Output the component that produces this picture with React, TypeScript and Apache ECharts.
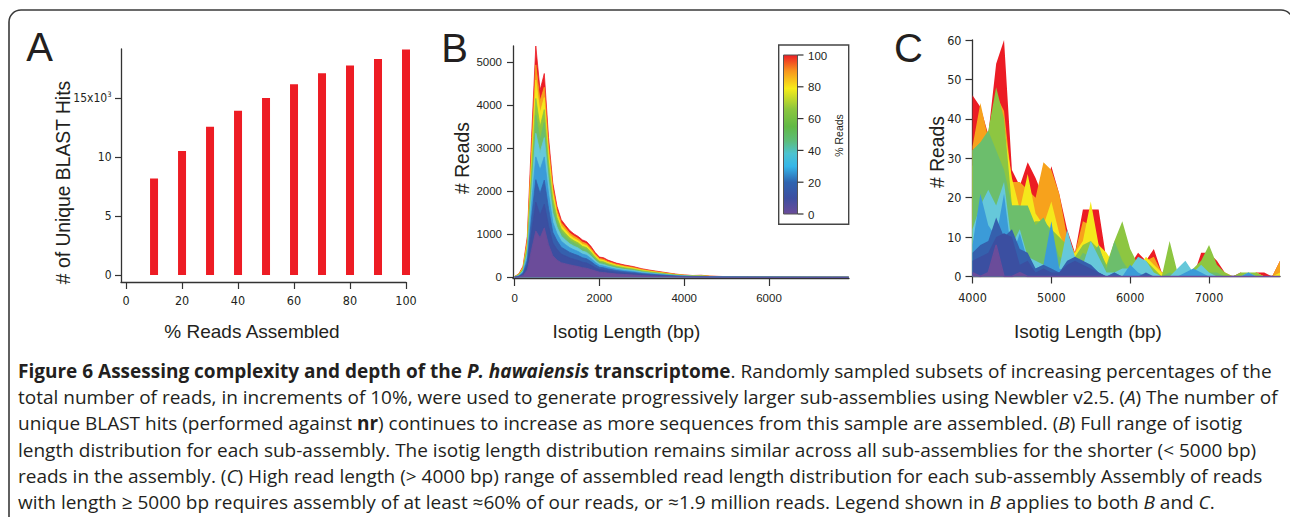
import React, { useEffect, useRef } from 'react';
import * as echarts from 'echarts';

// ---------- Panel A data ----------
const pctAssembled = [0, 10, 20, 30, 40, 50, 60, 70, 80, 90, 100];
const uniqueBlastHits = [0, 8190, 10530, 12600, 13960, 15030, 16200, 17150, 17800, 18360, 19150];
const aYTicks = [0, 5000, 10000, 15000];
const aXTicks = [0, 20, 40, 60, 80, 100];

// ---------- Panel B data (isotig length, bp) ----------
const bLength = [0, 100, 200, 300, 400, 500, 600, 700, 800, 900, 1000, 1100, 1200, 1300, 1400, 1500, 1600, 1700, 1800, 1900, 2000, 2100, 2200, 2400, 2600, 2800, 3000, 3200, 3400, 3600, 3800, 4000, 4200, 4400, 4600, 4800, 5000, 5500, 6000, 6500, 7000, 7500, 7880];
const bReads100 = [20, 80, 260, 950, 3250, 5380, 4350, 4740, 3250, 2200, 1650, 1340, 1210, 1090, 1010, 950, 870, 830, 720, 580, 470, 455, 400, 330, 285, 250, 200, 165, 135, 105, 75, 55, 42, 48, 28, 22, 16, 12, 10, 8, 6, 5, 4];
const bReads90 = [18, 72, 235, 860, 2950, 4940, 4100, 4420, 3050, 2080, 1560, 1270, 1150, 1030, 960, 900, 820, 780, 670, 540, 440, 420, 370, 305, 262, 230, 183, 150, 122, 95, 68, 50, 38, 40, 25, 19, 14, 11, 9, 7, 5, 4, 3];
const bReads80 = [16, 65, 215, 790, 2720, 4590, 3820, 4180, 2880, 1970, 1480, 1200, 1090, 975, 905, 850, 770, 735, 630, 505, 410, 390, 345, 283, 242, 212, 168, 138, 112, 86, 62, 45, 34, 35, 22, 17, 12, 9, 8, 6, 5, 3, 3];
const bReads70 = [14, 58, 195, 720, 2480, 4160, 3500, 3900, 2680, 1830, 1390, 1130, 1020, 915, 850, 800, 720, 690, 590, 470, 380, 360, 318, 260, 222, 194, 153, 125, 101, 78, 56, 40, 30, 31, 19, 15, 11, 8, 7, 5, 4, 3, 2];
const bReads60 = [12, 50, 175, 650, 2250, 3770, 3200, 3600, 2470, 1680, 1290, 1060, 950, 855, 795, 745, 670, 640, 548, 435, 350, 330, 292, 238, 202, 176, 138, 113, 91, 70, 50, 36, 27, 27, 17, 13, 10, 7, 6, 4, 3, 2, 2];
const bReads50 = [10, 42, 150, 570, 2000, 3350, 2900, 3250, 2250, 1500, 1170, 960, 865, 780, 725, 680, 610, 580, 497, 395, 318, 298, 264, 214, 181, 158, 123, 100, 81, 62, 44, 32, 24, 23, 15, 11, 9, 6, 5, 4, 3, 2, 2];
const bReads40 = [8, 34, 125, 480, 1700, 2800, 2500, 2800, 1950, 1280, 1020, 840, 760, 690, 640, 600, 540, 512, 438, 348, 280, 262, 232, 187, 158, 137, 106, 86, 70, 53, 38, 27, 20, 19, 12, 9, 7, 5, 4, 3, 2, 2, 1];
const bReads30 = [6, 26, 100, 390, 1380, 2270, 1950, 2260, 1600, 1050, 850, 700, 640, 580, 540, 505, 455, 430, 368, 292, 235, 220, 195, 157, 132, 114, 88, 71, 58, 44, 31, 22, 16, 15, 10, 7, 6, 4, 3, 2, 2, 1, 1];
const bReads20 = [4, 18, 72, 290, 1050, 1750, 1450, 1700, 1200, 800, 650, 540, 495, 450, 420, 392, 352, 332, 284, 225, 180, 168, 149, 120, 100, 86, 66, 53, 43, 33, 23, 16, 12, 11, 7, 5, 4, 3, 2, 2, 1, 1, 1];
const bReads10 = [2, 10, 40, 170, 640, 1080, 920, 1150, 760, 500, 400, 340, 315, 290, 270, 250, 225, 210, 180, 150, 120, 110, 98, 78, 64, 54, 42, 33, 27, 20, 14, 10, 7, 6, 4, 3, 2, 2, 1, 1, 1, 1, 1];
const bYTicks = [0, 1000, 2000, 3000, 4000, 5000];
const bXTicks = [0, 2000, 4000, 6000];

// ---------- Panel C data (isotig length > 4000 bp) ----------
const cLength = [4000, 4100, 4200, 4300, 4400, 4500, 4600, 4700, 4800, 4900, 5000, 5100, 5200, 5300, 5400, 5500, 5600, 5700, 5800, 5900, 6000, 6100, 6200, 6300, 6400, 6500, 6600, 6700, 6800, 6900, 7000, 7100, 7200, 7300, 7400, 7500, 7600, 7700, 7800, 7900];
const cReads100 = [46, 43, 36, 54, 60, 27, 23, 29, 25, 20, 28, 21, 12, 6, 17, 17, 17, 4, 3, 2, 3, 6, 4, 7, 1, 1, 0, 1, 0, 6, 6, 4, 1, 0, 1, 0, 1, 1, 0, 4];
const cReads90 = [33, 44, 35, 46, 42, 24, 24, 22, 20, 29, 27, 21, 10, 6, 14, 13, 8, 4, 3, 2, 2, 3, 4, 5, 1, 1, 0, 1, 0, 3, 4, 2, 1, 0, 0, 0, 1, 0, 0, 4];
const cReads80 = [28, 33, 37, 35, 38, 25, 17, 26, 16, 13, 19, 11, 6, 6, 9, 19, 8, 6, 3, 2, 2, 2, 5, 3, 1, 1, 0, 1, 0, 2, 3, 2, 1, 0, 0, 0, 1, 0, 0, 1];
const cReads70 = [32, 34, 37, 48, 40, 18, 18, 13, 14, 14, 12, 10, 8, 5, 8, 9, 7, 3, 9, 14, 7, 3, 4, 2, 0, 9, 1, 0, 2, 4, 8, 3, 1, 0, 1, 1, 1, 0, 0, 0];
const cReads60 = [32, 34, 37, 32, 27, 18, 18, 18, 13, 15, 11, 5, 4, 3, 6, 5, 8, 2, 9, 4, 1, 1, 2, 1, 0, 1, 0, 1, 0, 2, 1, 1, 0, 0, 0, 0, 0, 0, 0, 0];
const cReads50 = [12, 18, 22, 18, 24, 8, 12, 5, 4, 3, 3, 2, 12, 5, 3, 9, 5, 1, 1, 2, 2, 5, 4, 1, 0, 0, 2, 4, 1, 3, 1, 0, 0, 0, 0, 1, 0, 0, 0, 0];
const cReads40 = [8, 21, 13, 10, 21, 5, 11, 4, 2, 3, 14, 2, 1, 3, 2, 3, 1, 0, 1, 0, 3, 1, 0, 0, 0, 0, 0, 1, 2, 1, 0, 0, 0, 0, 0, 1, 0, 0, 0, 0];
const cReads30 = [6, 8, 9, 15, 10, 12, 7, 6, 2, 3, 2, 1, 4, 5, 4, 3, 1, 0, 1, 0, 0, 0, 1, 0, 0, 0, 0, 0, 0, 0, 0, 0, 0, 0, 0, 0, 0, 0, 0, 0];
const cReads20 = [4, 5, 6, 10, 11, 10, 3, 4, 1, 2, 1, 1, 3, 4, 3, 2, 1, 0, 0, 0, 0, 0, 0, 0, 0, 0, 0, 0, 0, 0, 0, 0, 0, 0, 0, 0, 0, 0, 0, 0];
const cReads10 = [1, 0, 1, 8, 0, 0, 1, 0, 0, 0, 0, 0, 0, 0, 0, 0, 0, 0, 0, 0, 0, 0, 0, 0, 0, 0, 0, 0, 0, 0, 0, 0, 0, 0, 0, 0, 0, 0, 0, 0];
const cYTicks = [0, 10, 20, 30, 40, 50, 60];
const cXTicks = [4000, 5000, 6000, 7000];

// ---------- Sub-assembly series (back to front) ----------
const subsetNames = ['100%', '90%', '80%', '70%', '60%', '50%', '40%', '30%', '20%', '10%'];
const subsetColors = ['#ec1c24', '#f7a21c', '#f4e81c', '#8dc641', '#6cbe6c', '#66c8da', '#3b9bd8', '#3560ad', '#3b4fa1', '#6b4c9a'];
const bSubsets = [bReads100, bReads90, bReads80, bReads70, bReads60, bReads50, bReads40, bReads30, bReads20, bReads10];
const cSubsets = [cReads100, cReads90, cReads80, cReads70, cReads60, cReads50, cReads40, cReads30, cReads20, cReads10];

// ---------- Colour bar legend ----------
const colorbarTicks = [0, 20, 40, 60, 80, 100];
const colorbarStops = [
  [0, '#6b4c9a'], [0.1, '#3d4fa1'], [0.2, '#2e64b0'], [0.3, '#35b6e8'], [0.38, '#4cc3d0'],
  [0.46, '#5dbd7a'], [0.55, '#62b946'], [0.66, '#8cc63f'], [0.79, '#f7ec1a'], [0.9, '#f7941d'], [1, '#ed1c24'],
];

// ---------- Caption ----------
const captionLines = [
  '{b|Figure 6 Assessing complexity and depth of the }{bi|P. hawaiensis}{b| transcriptome}. Randomly sampled subsets of increasing percentages of the',
  'total number of reads, in increments of 10%, were used to generate progressively larger sub-assemblies using Newbler v2.5. ({i|A}) The number of',
  'unique BLAST hits (performed against {b|nr}) continues to increase as more sequences from this sample are assembled. ({i|B}) Full range of isotig',
  'length distribution for each sub-assembly. The isotig length distribution remains similar across all sub-assemblies for the shorter (< 5000 bp)',
  'reads in the assembly. ({i|C}) High read length (> 4000 bp) range of assembled read length distribution for each sub-assembly Assembly of reads',
  'with length ≥ 5000 bp requires assembly of at least ≈60% of our reads, or ≈1.9 million reads. Legend shown in {i|B} applies to both {i|B} and {i|C}.',
];

const FONT = "'Liberation Sans', Arial, Helvetica, sans-serif";
const NARROW = "'Liberation Sans Narrow', 'DejaVu Sans Condensed', 'Liberation Sans', sans-serif";
const CAP = "'Open Sans', 'Noto Sans', sans-serif";
const CAP_SIZE = 19;
const INK = '#231f20';

function axisCommon(extra: any) {
  return {
    splitLine: { show: false },
    axisLine: { show: true, onZero: false, lineStyle: { color: '#333', width: 1.3 } },
    ...extra,
  };
}

function areaSeries(name: string, color: string, idx: number, xs: number[], ys: number[], lw: number) {
  return {
    type: 'line',
    name,
    xAxisIndex: idx,
    yAxisIndex: idx,
    data: xs.map((x, i) => [x, ys[i]]),
    showSymbol: false,
    symbol: 'none',
    lineStyle: { color, width: lw },
    itemStyle: { color },
    areaStyle: { color, opacity: 1 },
    silent: true,
  };
}

function txt(text: string, x: number, y: number, size: number, opts: any = {}) {
  return {
    type: 'text',
    x,
    y,
    rotation: opts.rotation || 0,
    silent: true,
    style: {
      text,
      fill: INK,
      fontSize: size,
      fontFamily: opts.family || FONT,
      fontWeight: opts.weight || 'normal',
      align: opts.align || 'center',
      textAlign: opts.align || 'center',
      verticalAlign: 'middle',
      textVerticalAlign: 'middle',
      rich: opts.rich,
    },
  };
}

export default function App() {
  const ref = useRef<HTMLDivElement>(null);

  useEffect(() => {
    if (!ref.current) return;
    const chart = echarts.init(ref.current, undefined, { renderer: 'svg' });

    // colour bar geometry (legend layout)
    const cbX = 783.5, cbTop = 55, cbBottom = 214, cbW = 14;
    const cbY = (v: number) => cbBottom - (v / 100) * (cbBottom - cbTop);

    const capRich = {
      b: { fontWeight: 'bold', fontSize: CAP_SIZE, fontFamily: CAP, fill: INK, color: INK },
      bi: { fontWeight: 'bold', fontStyle: 'italic', fontSize: CAP_SIZE, fontFamily: CAP, fill: INK, color: INK },
      i: { fontStyle: 'italic', fontSize: CAP_SIZE, fontFamily: CAP, fill: INK, color: INK },
    };

    const graphics: any[] = [
      {
        type: 'rect',
        silent: true,
        z: -10,
        shape: { x: 9, y: 10, width: 1284, height: 560, r: 12 },
        style: { fill: 'none', stroke: '#3a3a3a', lineWidth: 1.6 },
      },
      txt('A', 39.5, 47, 40),
      txt('B', 454.5, 47.5, 40),
      txt('C', 908.5, 47.5, 40),
      txt('# of Unique BLAST Hits', 63, 182.5, 19.3, { rotation: Math.PI / 2 }),
      txt('% Reads Assembled', 252, 331, 19),
      txt('# Reads', 462, 158, 19.3, { rotation: Math.PI / 2 }),
      txt('Isotig Length (bp)', 626.5, 331.5, 19),
      txt('# Reads', 937, 152, 19.3, { rotation: Math.PI / 2 }),
      txt('Isotig Length (bp)', 1088, 331.5, 19),
      // legend box
      {
        type: 'rect',
        silent: true,
        shape: { x: 778.7, y: 45, width: 70, height: 179.3 },
        style: { fill: '#ffffff', stroke: '#444', lineWidth: 1.4 },
        z: 10,
      },
      {
        type: 'rect',
        silent: true,
        shape: { x: cbX, y: cbTop, width: cbW, height: cbBottom - cbTop },
        style: {
          fill: new echarts.graphic.LinearGradient(0, 1, 0, 0, colorbarStops.map(([o, c]) => ({ offset: o as number, color: c as string }))),
          stroke: '#555',
          lineWidth: 1,
        },
        z: 11,
      },
      ...colorbarTicks.map((t) => ({
        type: 'line',
        silent: true,
        z: 11,
        shape: { x1: cbX + cbW, y1: cbY(t), x2: cbX + cbW + 6, y2: cbY(t) },
        style: { stroke: '#333', lineWidth: 1.2 },
      })),
      ...colorbarTicks.map((t) => ({ ...txt(String(t), 808, cbY(t) + 0.5, 11.5, { align: 'left' }), z: 11 })),
      { ...txt('% Reads', 838.5, 135.5, 10.5, { rotation: Math.PI / 2 }), z: 11 },
      // caption
      ...captionLines.map((line, i) => txt(line, 18, 371 + i * 26.2, CAP_SIZE, { align: 'left', family: CAP, rich: capRich })),
    ];

    const series: any[] = [
      {
        type: 'bar',
        name: 'Unique BLAST hits',
        xAxisIndex: 0,
        yAxisIndex: 0,
        data: pctAssembled.map((p, i) => [p, uniqueBlastHits[i]]),
        barWidth: 8,
        itemStyle: { color: '#ed1c24' },
        silent: true,
      },
      ...subsetNames.map((n, k) => areaSeries(n, subsetColors[k], 1, bLength, bSubsets[k], 0.8)),
      ...subsetNames.map((n, k) => areaSeries(n, subsetColors[k], 2, cLength, cSubsets[k], k === 9 ? 1.4 : 0)),
    ];

    const plain = (v: number) => String(v);

    const tickLbl = (family: string, size: number, margin: number, custom: number[], formatter?: any, rich?: any) => ({
      show: true,
      color: INK,
      fontFamily: family,
      fontSize: size,
      margin,
      customValues: custom,
      formatter: formatter || plain,
      rich,
    });

    chart.setOption({
      animation: false,
      backgroundColor: '#ffffff',
      grid: [
        { left: 121, top: 49, width: 285, height: 233, outerBoundsMode: 'none' },
        { left: 513, top: 46, width: 336, height: 232, outerBoundsMode: 'none' },
        { left: 972.5, top: 40, width: 307.5, height: 236.5, outerBoundsMode: 'none' },
      ],
      xAxis: [
        axisCommon({
          type: 'value', gridIndex: 0, min: -1.8, max: 100,
          axisTick: { show: true, length: 7, customValues: aXTicks, lineStyle: { color: '#333', width: 1.2 } },
          axisLabel: tickLbl(NARROW, 12.5, 12, aXTicks),
        }),
        axisCommon({
          type: 'value', gridIndex: 1, min: -38, max: 7887,
          axisTick: { show: true, length: 8, customValues: bXTicks, lineStyle: { color: '#333', width: 1.2 } },
          axisLabel: tickLbl(FONT, 11.5, 14, bXTicks),
        }),
        axisCommon({
          type: 'value', gridIndex: 2, min: 4000, max: 7900,
          axisTick: { show: true, length: 7, customValues: cXTicks, lineStyle: { color: '#333', width: 1.2 } },
          axisLabel: tickLbl(NARROW, 12.5, 14, cXTicks),
        }),
      ],
      yAxis: [
        axisCommon({
          type: 'value', gridIndex: 0, min: -593, max: 19200,
          axisTick: { show: true, length: 6, customValues: aYTicks, lineStyle: { color: '#333', width: 1.2 } },
          axisLabel: tickLbl(NARROW, 12, 9.5, aYTicks,
            (v: number) => (v === 15000 ? '15x10{sup|3}' : String(v / 1000)),
            { sup: { fontSize: 7.5, fontFamily: NARROW, color: INK, verticalAlign: 'top', padding: [0, 0, 7, 0] } }),
        }),
        axisCommon({
          type: 'value', gridIndex: 1, min: -16, max: 5380,
          axisTick: { show: true, length: 6, customValues: bYTicks, lineStyle: { color: '#333', width: 1.2 } },
          axisLabel: tickLbl(FONT, 11.5, 11, bYTicks),
        }),
        axisCommon({
          type: 'value', gridIndex: 2, min: 0, max: 60,
          axisTick: { show: true, length: 7, customValues: cYTicks, lineStyle: { color: '#333', width: 1.2 } },
          axisLabel: tickLbl(NARROW, 12.5, 11, cYTicks),
        }),
      ],
      series,
      graphic: { elements: graphics },
    });

    return () => chart.dispose();
  }, []);

  return (
    <div
      ref={ref}
      style={{ position: 'absolute', left: 0, top: 0, width: 1290, height: 517, background: '#fff' }}
    />
  );
}
